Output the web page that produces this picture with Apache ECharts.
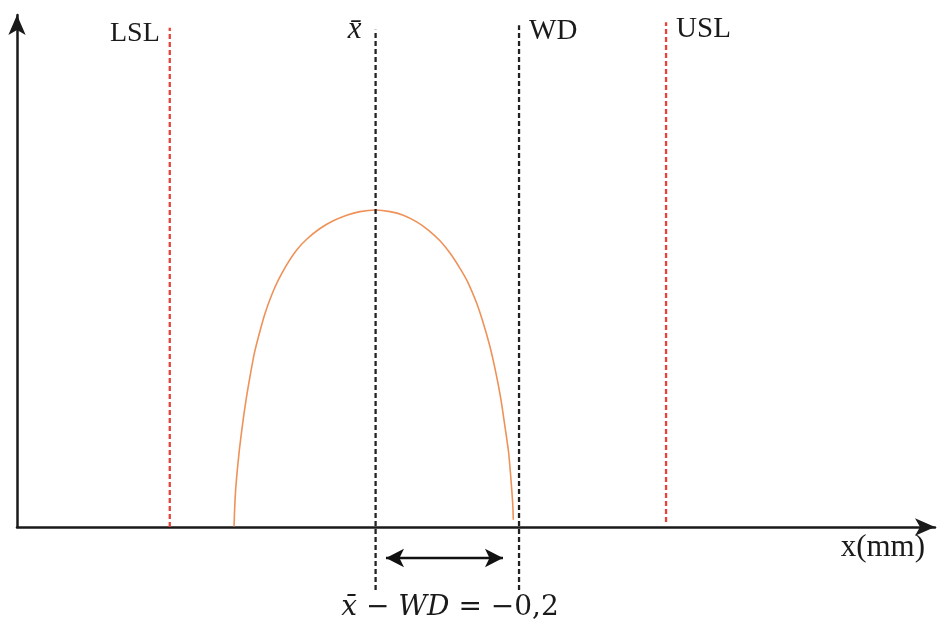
<!DOCTYPE html>
<html>
<head>
<meta charset="utf-8">
<script src="https://cdn.jsdelivr.net/npm/echarts@6/dist/echarts.min.js"></script>
<style>html,body{margin:0;padding:0;background:#fff;}#c{width:937px;height:621px;}</style>
</head>
<body>
<div id="c"></div>
<script>
// x in mm relative to process mean (x̄ = 0); y = relative frequency (arbitrary units)
var curveX = [-0.1974, -0.1960, -0.1937, -0.1900, -0.1853, -0.1807, -0.1751, -0.1691, -0.1621, -0.1542,
              -0.1449, -0.1357, -0.1240, -0.1100, -0.0961, -0.0775, -0.0590, -0.0403, -0.0218, 0,
              0.0201, 0.0386, 0.0573, 0.0735, 0.0898, 0.1037, 0.1177, 0.1293, 0.1410, 0.1502,
              0.1595, 0.1679, 0.1749, 0.1804, 0.1856, 0.1888, 0.1912, 0.1920];
var curveY = [0.001, 0.053, 0.098, 0.150, 0.203, 0.248, 0.294, 0.339, 0.378, 0.417,
              0.453, 0.482, 0.512, 0.541, 0.562, 0.583, 0.598, 0.609, 0.616, 0.619,
              0.616, 0.609, 0.596, 0.580, 0.559, 0.535, 0.505, 0.476, 0.437, 0.398,
              0.352, 0.300, 0.248, 0.196, 0.144, 0.092, 0.046, 0.014];
var refNames = ['LSL', 'x\u0304', 'WD', 'USL'];
var refX = [-0.287, 0, 0.2, 0.405];
var refTop = [0.975, 0.971, 0.98, 0.986];
var refBottom = [0, -0.123, -0.123, 0.01];
var diffValue = -0.2;               // x̄ − WD
var arrowX = [0.0145, 0.1776];      // double arrow span (mm)
var arrowY = -0.0605;
var diffText = ['x\u0304', ' \u2212 ', 'WD', ' = \u22120,2'];
var diffPos = [0.1037, -0.158];
var xName = 'x(mm)';

var serif = '"Liberation Serif", "DejaVu Serif", serif';
var refColors = ['#e8423a', '#222222', '#222222', '#e8423a'];
var labelOpts = [
  {position: 'left', distance: 10, offset: [0, 6], fontStyle: 'normal', size: 28},
  {position: 'left', distance: 14, offset: [0, 0], fontStyle: 'italic', size: 31},
  {position: 'right', distance: 10, offset: [0, 6], fontStyle: 'normal', size: 29},
  {position: 'right', distance: 10, offset: [0, 7], fontStyle: 'normal', size: 29}
];

var series = [];
series.push({
  type: 'line',
  data: curveX.map(function (x, i) { return [x, curveY[i]]; }),
  smooth: 0.2,
  showSymbol: false,
  lineStyle: {color: '#ee9259', width: 1.6},
  silent: true,
  z: 3
});
refNames.forEach(function (n, i) {
  series.push({
    type: 'line',
    clip: false,
    data: [[refX[i], refBottom[i]], [refX[i], refTop[i]]],
    showSymbol: false,
    lineStyle: {color: refColors[i], width: 2.3, type: [5, 3]},
    silent: true,
    z: 4
  });
  series.push({
    type: 'scatter',
    clip: false,
    symbolSize: 0,
    silent: true,
    itemStyle: {opacity: 1},
    data: [[refX[i], refTop[i]]],
    label: {
      show: true, formatter: n, position: labelOpts[i].position, distance: labelOpts[i].distance,
      offset: labelOpts[i].offset, color: '#1a1a1a', fontFamily: serif, fontSize: labelOpts[i].size,
      fontStyle: labelOpts[i].fontStyle
    },
    z: 5
  });
});
// double arrow between x̄ and WD
series.push({
  type: 'line',
  clip: false,
  silent: true,
  showSymbol: true,
  symbol: 'arrow',
  symbolSize: [14, 18],
  itemStyle: {color: '#111111'},
  lineStyle: {color: '#111111', width: 2.5},
  data: [
    {value: [arrowX[0], arrowY], symbolRotate: 90},
    {value: [arrowX[1], arrowY], symbolRotate: -90}
  ],
  z: 5
});
// difference label
series.push({
  type: 'scatter',
  clip: false,
  symbolSize: 0,
  silent: true,
  itemStyle: {opacity: 1},
  data: [diffPos],
  label: {
    show: true, position: 'inside',
    formatter: '{i|' + diffText[0] + '}{n|' + diffText[1] + '}{i|' + diffText[2] + '}{n|' + diffText[3] + '}',
    rich: {
      i: {fontFamily: '"DejaVu Serif", serif', fontStyle: 'italic', fontSize: 28, color: '#1a1a1a'},
      n: {fontFamily: '"DejaVu Serif", serif', fontSize: 28, color: '#1a1a1a'}
    }
  },
  z: 5
});

var chart = echarts.init(document.getElementById('c'), null, {renderer: 'canvas'});
chart.setOption({
  backgroundColor: '#ffffff',
  animation: false,
  grid: {left: 17, right: 2, top: 15, bottom: 94, containLabel: false},
  xAxis: {
    type: 'value', min: -0.5, max: 0.78,
    name: xName, nameLocation: 'end', nameGap: -10,
    nameTextStyle: {align: 'right', verticalAlign: 'top', padding: [5, 0, 0, 0],
      color: '#1a1a1a', fontFamily: serif, fontSize: 31},
    axisLine: {onZero: false, lineStyle: {color: '#1a1a1a', width: 2.5}, symbol: ['none', 'arrow'], symbolSize: [13, 20]},
    axisTick: {show: false}, axisLabel: {show: false}, splitLine: {show: false}
  },
  yAxis: {
    type: 'value', min: 0, max: 1,
    axisLine: {show: true, onZero: false, lineStyle: {color: '#1a1a1a', width: 2.5}, symbol: ['none', 'arrow'], symbolSize: [13, 20]},
    axisTick: {show: false}, axisLabel: {show: false}, splitLine: {show: false}
  },
  series: series
});
</script>
</body>
</html>
